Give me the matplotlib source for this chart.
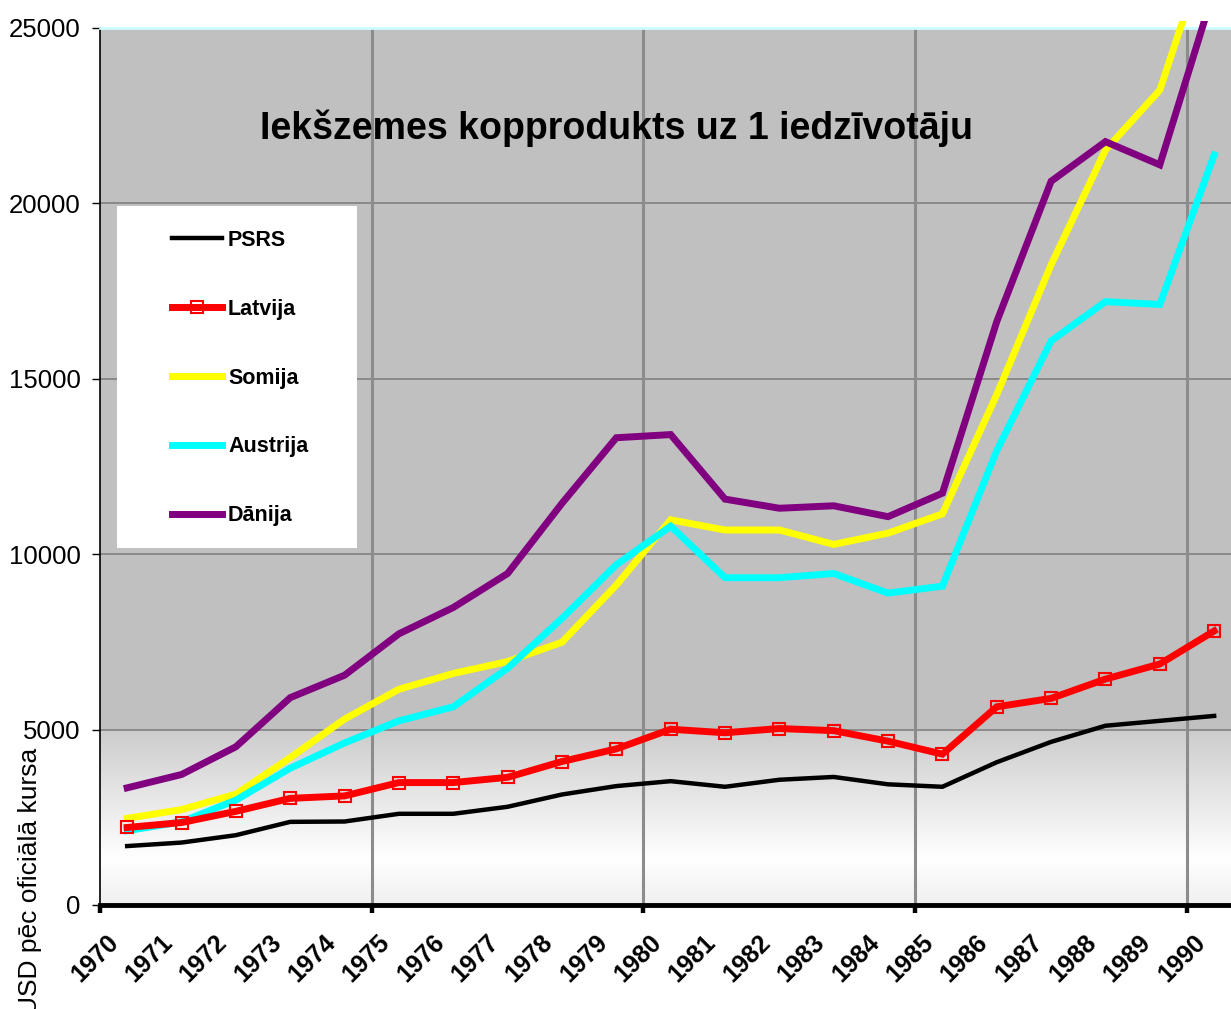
import numpy as np
import matplotlib.pyplot as plt
from matplotlib.patches import Rectangle
from matplotlib.transforms import Bbox, TransformedBbox, ScaledTranslation

plt.rcParams['font.family'] = ['Liberation Sans', 'DejaVu Sans']

# Dati: IKP uz 1 iedzivotaju (USD pec oficiala kursa)
years = np.arange(1970, 1991)
psrs = [1680, 1780, 1990, 2370, 2380, 2600, 2600, 2800, 3150, 3390, 3530,
        3370, 3570, 3650, 3440, 3370, 4070, 4650, 5110, 5250, 5390]
latvija = [2210, 2350, 2670, 3040, 3110, 3490, 3490, 3640, 4090, 4450, 5010,
           4910, 5030, 4970, 4670, 4300, 5650, 5890, 6440, 6870, 7810]
somija = [2470, 2720, 3160, 4200, 5300, 6150, 6600, 6940, 7490, 9120, 10980,
          10690, 10690, 10280, 10600, 11150, 14550, 18250, 21520, 23230, 27900]
austrija = [2120, 2370, 2990, 3900, 4620, 5250, 5650, 6750, 8170, 9700, 10800,
            9330, 9330, 9450, 8890, 9090, 12950, 16080, 17200, 17120, 21380]
danija = [3340, 3720, 4510, 5910, 6550, 7730, 8480, 9450, 11450, 13320, 13410,
          11570, 11310, 11380, 11070, 11740, 16630, 20630, 21760, 21100, 26100]

fig = plt.figure(figsize=(12.31, 10.09), dpi=100)
ax = fig.add_axes([100 / 1231, 104 / 1009, 1131 / 1231, 877 / 1009])

xmin, xmax = 1970, 1990.81
ax.set_xlim(xmin, xmax)
ax.set_ylim(0, 25000)

# fona gradients (peleks augsa, balts apaksa)
yy = np.linspace(0, 25000, 500)
shade = np.interp(yy, [0, 1300, 4999, 5000, 25000], [0.94, 1.0, 0.80, 0.753, 0.753])
img = np.repeat(shade[:, None, None], 3, axis=2)
ax.imshow(img, extent=[xmin, xmax, 0, 25000], origin='lower', aspect='auto',
          zorder=0, interpolation='bilinear')

# rezga linijas
ax.set_axisbelow(True)
ax.set_yticks(np.arange(0, 25001, 5000))
ax.set_xticks(np.arange(1970, 1991, 5))
ax.yaxis.grid(True, color='#808080', lw=1.2)
for x in range(1975, 1991, 5):
    ax.axvline(x, color='#8c8c8c', lw=2.2, zorder=0.6)

xc = years + 0.5
clip = TransformedBbox(Bbox([[0, 0], [1, 1.008]]), ax.transAxes)
series = [
    ('PSRS', psrs, dict(color='black', lw=3.2, zorder=3)),
    ('Latvija', latvija, dict(color='#ff0000', lw=5, marker='s', ms=8, mfc='none',
                              mec='#ff0000', mew=1.5, zorder=4)),
    ('Somija', somija, dict(color='#ffff00', lw=5, zorder=3)),
    ('Austrija', austrija, dict(color='#00ffff', lw=5, zorder=3)),
    ('Dānija', danija, dict(color='#800080', lw=5, zorder=3)),
]
handles = []
for name, vals, kw in series:
    ln, = ax.plot(xc, vals, label=name, solid_joinstyle='miter', **kw)
    ln.set_clip_box(clip)
    handles.append(ln)

# asis
ax.spines['right'].set_visible(False)
ax.spines['top'].set_color('#ccffff')
ax.spines['top'].set_linewidth(2)
ax.spines['left'].set_color('black')
ax.spines['left'].set_linewidth(1.2)
ax.spines['bottom'].set_linewidth(3.5)

ax.tick_params(axis='y', direction='out', length=6, width=1, pad=8, labelsize=18.5)
ax.tick_params(axis='x', which='major', direction='out', length=6, width=3.2,
               labelbottom=False)
ax.xaxis.remove_overlapping_locs = False
ax.set_xticks(years, minor=True)
ax.set_xticklabels([str(y) for y in years], minor=True, rotation=45,
                   ha='right', va='top', rotation_mode='anchor',
                   fontsize=18, fontweight='bold')
ax.tick_params(axis='x', which='minor', length=0, pad=18)
shift = ScaledTranslation(6 / 100, 0, fig.dpi_scale_trans)
for lbl in ax.get_xticklabels(minor=True):
    lbl.set_transform(lbl.get_transform() + shift)

fig.text(30 / 1231, 1 - 748 / 1009, 'USD pēc oficiālā kursa', rotation=90,
         ha='center', va='top', fontsize=19)

ax.text((617 - 100) / 1131, (905 - 128) / 877, 'Iekšzemes kopprodukts uz 1 iedzīvotāju',
        transform=ax.transAxes, ha='center', va='center', fontsize=27,
        fontweight='bold', zorder=6)

# legenda
ax.add_patch(Rectangle(((117 - 100) / 1131, (905 - 548) / 877), 240 / 1131, 342 / 877,
                       transform=ax.transAxes, facecolor='white', edgecolor='none',
                       zorder=5))
leg = ax.legend(handles=handles, loc='upper left',
                bbox_to_anchor=((172 - 100) / 1131, (905 - 230) / 877),
                frameon=False, borderpad=0, borderaxespad=0, handlelength=2.3,
                handletextpad=0.3, labelspacing=2.22,
                prop={'size': 15.5, 'weight': 'bold'})
leg.set_zorder(6)

fig.savefig('out.png', dpi=100)
